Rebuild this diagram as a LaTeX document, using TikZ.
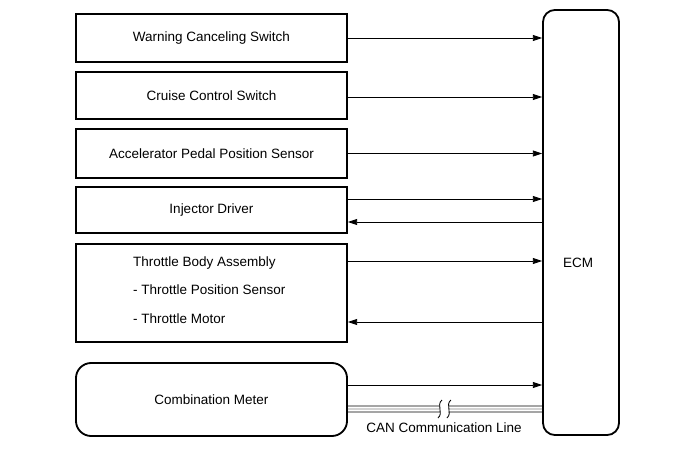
\documentclass[tikz,border=0pt]{standalone}
\usepackage{fontspec}
\setmainfont{Liberation Sans}
\usetikzlibrary{arrows.meta,calc,positioning}
\tikzset{box/.style={draw,line width=1.3pt,minimum width=6.775cm,inner sep=0pt},
  meterbox/.style={box,rounded corners=0.38cm},
  ecmbox/.style={draw,line width=1.3pt,rounded corners=0.3cm,minimum width=1.9cm,minimum height=10.625cm,inner sep=0pt},
  arr/.style={-{Triangle[length=2.3mm,width=1.5mm]},line width=0.6pt},
  canline/.style={line width=0.6pt}}

\begin{document}
\begin{tikzpicture}[x=0.025cm,y=-0.025cm,font=\fontsize{9.6}{11}\selectfont]
\useasboundingbox (0,0) rectangle (691,467);
% input / output boxes
\node[box,minimum height=1.2cm] (wcs) at (211.5,38) {Warning Canceling Switch};
\node[box,minimum height=1.175cm] (ccs) at (211.5,95.5) {Cruise Control Switch};
\node[box,minimum height=1.225cm] (apps) at (211.5,153.5) {Accelerator Pedal Position Sensor};
\node[box,minimum height=1.15cm] (inj) at (211.5,210) {Injector Driver};
\node[box,minimum height=2.45cm] (tba) at (211.5,293) {};
\node[anchor=west,align=left,font=\fontsize{9.6}{20.3}\selectfont] (tbatxt) at ($(tba.west)+(53,-3)$)
  {Throttle Body Assembly\\- Throttle Position Sensor\\- Throttle Motor};
\node[meterbox,minimum height=1.825cm] (cm) at (211.5,399.5) {Combination Meter};
\node[ecmbox] (ecm) at (581,222.5) {};
\node (ecmlbl) at ($(ecm.center)+(-3,40)$) {ECM};
% signal lines
\draw[arr] (wcs.east) -- (wcs.east -| ecm.west);
\draw[arr] ($(ccs.east)+(0,1.5)$) -- ($(ccs.east -| ecm.west)+(0,1.5)$);
\draw[arr] (apps.east) -- (apps.east -| ecm.west);
\draw[arr] ($(inj.east)+(0,-11)$) -- ($(inj.east -| ecm.west)+(0,-11)$);
\draw[arr] ($(inj.east -| ecm.west)+(0,12)$) -- ($(inj.east)+(0,12)$);
\draw[arr] ($(tba.east)+(0,-32)$) -- ($(tba.east -| ecm.west)+(0,-32)$);
\draw[arr] ($(tba.east -| ecm.west)+(0,29)$) -- ($(tba.east)+(0,29)$);
\draw[arr] ($(cm.east)+(0,-14.5)$) -- ($(cm.east -| ecm.west)+(0,-14.5)$);
% CAN line with break
\coordinate (canL) at ($(cm.east)+(0,9.5)$);
\coordinate (canR) at (canL -| ecm.west);
\coordinate (brkL) at ($(canL)!0.474!(canR)$);
\coordinate (brkR) at ($(canL)!0.52!(canR)$);
\foreach \dy/\col in {-3/black,0/gray,3/black}
  \draw[canline,\col] ($(canL)+(0,\dy)$) -- ($(brkL)+(0,\dy)$) ($(brkR)+(0,\dy)$) -- ($(canR)+(0,\dy)$);
\foreach \b in {brkL,brkR}
  \draw[canline] ($(\b)+(2,-9)$) .. controls ($(\b)+(-4,-4)$) and ($(\b)+(4,4)$) .. ($(\b)+(-2,9)$);
\node (canlbl) at (444,428) {CAN Communication Line};
\end{tikzpicture}
\end{document}
